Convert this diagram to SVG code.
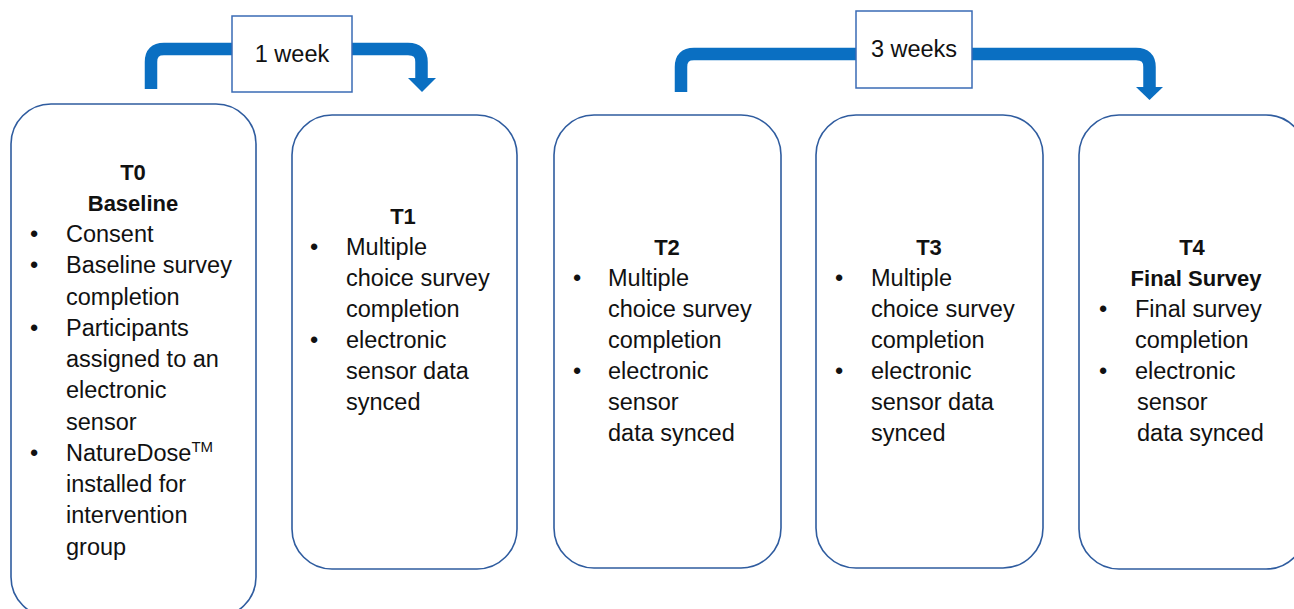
<svg xmlns="http://www.w3.org/2000/svg" width="1294" height="609" viewBox="0 0 1294 609">
<defs>
<style>
.box{fill:#fff;stroke:#2F5C9F;stroke-width:1.6}
.lbl{fill:#fff;stroke:#3A6BB5;stroke-width:1.5}
.t{font-family:"Liberation Sans",Arial,sans-serif;font-size:23.5px;fill:#111}
.b{font-weight:bold;text-anchor:middle;font-size:22px}
.arr{fill:none;stroke:#0A6FC2;stroke-width:12.5}
.head{fill:#0A6FC2}
</style>
</defs>
<g id="connectors">
<path class="arr" d="M151,89 V62 Q151,49 164,49 H408 Q421.5,49 421.5,62 V79"/>
<polygon class="head" points="408,78 436,78 422,92"/>
<path class="arr" d="M681,92 V67 Q681,54 694,54 H1136 Q1149.5,54 1149.5,67 V88"/>
<polygon class="head" points="1136,87 1163,87 1149.5,100"/>
</g>
<g id="label-1week">
<rect class="lbl" x="232" y="16" width="120" height="76"/>
<text class="t" x="292" y="62" text-anchor="middle">1 week</text>
</g>
<g id="label-3weeks">
<rect class="lbl" x="856" y="11" width="116" height="77"/>
<text class="t" x="914" y="57" text-anchor="middle">3 weeks</text>
</g>
<g id="T0">
<rect class="box" x="11" y="104" width="245" height="513" rx="40" ry="40"/>
<text class="t b" x="133" y="180">T0</text>
<text class="t b" x="133" y="211">Baseline</text>
<text class="t" x="30" y="242">•</text><text class="t" x="66" y="242">Consent</text>
<text class="t" x="30" y="273">•</text><text class="t" x="66" y="273">Baseline survey</text>
<text class="t" x="66" y="305">completion</text>
<text class="t" x="30" y="336">•</text><text class="t" x="66" y="336">Participants</text>
<text class="t" x="66" y="367">assigned to an</text>
<text class="t" x="66" y="398">electronic</text>
<text class="t" x="66" y="430">sensor</text>
<text class="t" x="30" y="461">•</text><text class="t" x="66" y="461">NatureDose<tspan font-size="15" dy="-9">TM</tspan></text>
<text class="t" x="66" y="492">installed for</text>
<text class="t" x="66" y="523">intervention</text>
<text class="t" x="66" y="555">group</text>
</g>
<g id="T1">
<rect class="box" x="292" y="115" width="225" height="454" rx="40" ry="40"/>
<text class="t b" x="403" y="224">T1</text>
<text class="t" x="310" y="255">•</text><text class="t" x="346" y="255">Multiple</text>
<text class="t" x="346" y="286">choice survey</text>
<text class="t" x="346" y="317">completion</text>
<text class="t" x="310" y="348">•</text><text class="t" x="346" y="348">electronic</text>
<text class="t" x="346" y="379">sensor data</text>
<text class="t" x="346" y="410">synced</text>
</g>
<g id="T2">
<rect class="box" x="554" y="115" width="227" height="453" rx="40" ry="40"/>
<text class="t b" x="667" y="255">T2</text>
<text class="t" x="573" y="286">•</text><text class="t" x="608" y="286">Multiple</text>
<text class="t" x="608" y="317">choice survey</text>
<text class="t" x="608" y="348">completion</text>
<text class="t" x="573" y="379">•</text><text class="t" x="608" y="379">electronic</text>
<text class="t" x="608" y="410">sensor</text>
<text class="t" x="608" y="441">data synced</text>
</g>
<g id="T3">
<rect class="box" x="816" y="115" width="227" height="453" rx="40" ry="40"/>
<text class="t b" x="929" y="255">T3</text>
<text class="t" x="835" y="286">•</text><text class="t" x="871" y="286">Multiple</text>
<text class="t" x="871" y="317">choice survey</text>
<text class="t" x="871" y="348">completion</text>
<text class="t" x="835" y="379">•</text><text class="t" x="871" y="379">electronic</text>
<text class="t" x="871" y="410">sensor data</text>
<text class="t" x="871" y="441">synced</text>
</g>
<g id="T4">
<rect class="box" x="1079" y="115" width="227" height="454" rx="40" ry="40"/>
<text class="t b" x="1192" y="255">T4</text>
<text class="t b" x="1196" y="286">Final Survey</text>
<text class="t" x="1099" y="317">•</text><text class="t" x="1135" y="317">Final survey</text>
<text class="t" x="1135" y="348">completion</text>
<text class="t" x="1099" y="379">•</text><text class="t" x="1135" y="379">electronic</text>
<text class="t" x="1137" y="410">sensor</text>
<text class="t" x="1137" y="441">data synced</text>
</g>
</svg>
